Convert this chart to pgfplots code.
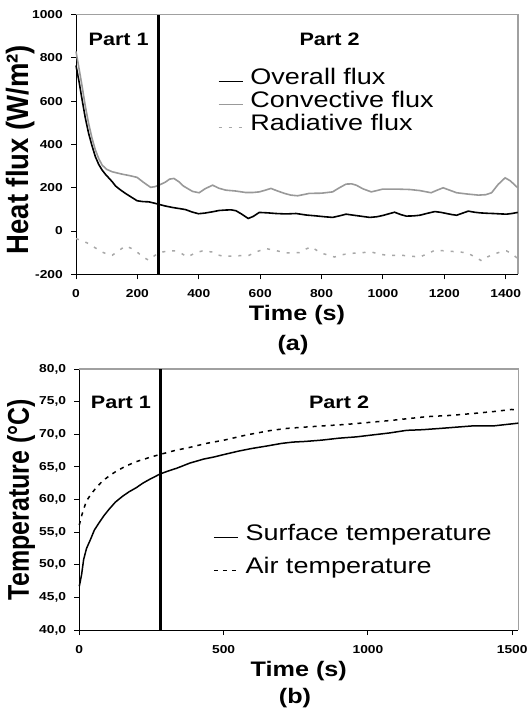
\documentclass[border=0pt]{standalone}
\usepackage{pgfplots}
\pgfplotsset{compat=1.18}
\usepackage{fontspec}
\setmainfont{Liberation Sans}

\definecolor{convgray}{HTML}{999999}
\definecolor{radgray}{HTML}{A8A8A8}
\definecolor{framegray}{HTML}{A0A0A0}

\newcommand{\W}[1]{\scalebox{1.2}[1]{#1}}
\newcommand{\tickfont}{\fontsize{11.5}{13}\selectfont\bfseries}
\newcommand{\xlfont}{\fontsize{21}{23}\selectfont\bfseries}
\newcommand{\legfont}{\fontsize{22.5}{24}\selectfont}
\newcommand{\partfont}{\fontsize{18}{20}\selectfont\bfseries}
\newcommand{\LE}[1]{\W{\legfont #1}}

\pgfplotsset{
  common/.style={
    scale only axis,
    axis x line*=bottom, axis y line*=left,
    axis line style={black, line width=1pt, -},
    tick align=outside, major tick length=5pt,
    tick style={black, line width=1pt},
    clip=false,
    /pgf/number format/assume math mode=true,
    /pgf/number format/1000 sep={},
    xticklabel={\W{\tickfont\pgfmathprintnumber{\tick}}},
    xticklabel style={inner sep=0pt, anchor=north, yshift=-10pt},
    yticklabel style={inner sep=0pt, anchor=east, xshift=-8pt},
    xlabel style={font=\xlfont, at={(axis description cs:0.5,0)}, anchor=base, yshift=-46pt, inner sep=0pt},
    legend style={draw=none, fill=none, inner sep=0pt, outer sep=0pt,
      column sep=7pt, nodes={inner sep=0pt, text height=15pt, text depth=8pt}},
    legend cell align=left,
    legend image code/.code={\draw[##1] (0pt,0pt) -- (24pt,0pt);},
  }
}

\begin{document}
\begin{tikzpicture}
\useasboundingbox (0,0) rectangle (531pt,-708pt);

% ---------------- (a) ----------------
\begin{axis}[common,
  at={(76pt,-274.3pt)}, anchor=south west,
  width=442pt, height=259.6pt,
  xmin=0, xmax=1440, ymin=-200, ymax=1000,
  xtick={0,200,...,1400}, ytick={-200,0,...,1000},
  yticklabel={\W{\tickfont\pgfmathprintnumber{\tick}}},
  xlabel={\W{Time (s)}},
  ylabel={\scalebox{1}[1.12]{\fontsize{27.5}{29}\selectfont\bfseries Heat flux (W/m²)}},
  ylabel style={at={(axis description cs:-0.1244,0.48)}, anchor=center, rotate=0},
  legend style={at={(axis description cs:0.321,0.787)}, anchor=north west, row sep=0pt},
]
\draw[framegray, line width=1.3pt] (rel axis cs:0,1) -- (rel axis cs:1,1) -- (rel axis cs:1,0);
\addplot[black, line width=1.6pt] coordinates {
(0,765) (10,690) (20,606) (30,525) (41,452) (52,395) (63,344) (74,308) (85,282) (96,262) (107,245) (118,228) (129,208) (145,190) (161,174) (180,157) (199,140) (218,136) (237,135) (255,129) (268,124) (290,116) (314,109) (336,104) (357,99) (378,88) (399,80) (420,83) (445,89) (466,95) (488,97) (505,98) (521,94) (540,78) (561,58) (578,68) (597,86) (625,84) (651,81) (684,79) (717,81) (750,74) (782,70) (810,66) (836,63) (858,70) (880,78) (910,72) (957,63) (980,66) (1000,72) (1020,80) (1038,87) (1058,76) (1076,69) (1100,70) (1120,73) (1145,82) (1169,90) (1190,86) (1207,81) (1225,76) (1240,73) (1260,83) (1278,92) (1298,87) (1316,84) (1340,82) (1360,81) (1385,79) (1403,78) (1420,81) (1439,86)
};
\addlegendentry{\LE{Overall flux}}
\addplot[convgray, line width=1.6pt] coordinates {
(0,830) (10,750) (20,668) (30,580) (41,498) (52,430) (63,375) (74,335) (85,305) (100,285) (118,274) (135,268) (150,263) (175,256) (199,248) (220,225) (243,202) (257,205) (270,212) (290,225) (305,240) (319,243) (335,228) (350,208) (363,197) (380,183) (401,177) (420,195) (445,212) (465,198) (488,189) (520,185) (553,178) (575,178) (597,181) (615,188) (635,197) (655,186) (679,174) (700,166) (722,163) (740,168) (760,174) (800,175) (836,181) (858,200) (880,217) (898,218) (913,212) (935,195) (962,181) (980,187) (1000,194) (1040,194) (1087,192) (1120,187) (1157,177) (1175,188) (1196,200) (1215,190) (1240,177) (1275,171) (1311,166) (1335,168) (1354,177) (1375,215) (1398,246) (1415,232) (1439,200)
};
\addlegendentry{\LE{Convective flux}}
\addplot[radgray, line width=1.5pt, dash pattern=on 3pt off 7pt] coordinates {
(0,-35) (20,-45) (41,-58) (63,-78) (85,-97) (100,-106) (118,-112) (140,-90) (161,-69) (180,-80) (199,-97) (218,-120) (237,-135) (255,-115) (270,-100) (300,-92) (325,-92) (345,-105) (363,-120) (390,-100) (412,-92) (445,-97) (460,-110) (482,-117) (520,-115) (564,-112) (590,-95) (619,-81) (650,-90) (684,-101) (727,-100) (746,-85) (766,-73) (785,-90) (804,-104) (842,-120) (865,-110) (891,-104) (930,-100) (962,-97) (985,-105) (1011,-112) (1060,-112) (1120,-120) (1145,-105) (1169,-89) (1207,-92) (1240,-96) (1273,-100) (1300,-120) (1322,-138) (1340,-120) (1360,-107) (1380,-98) (1403,-92) (1420,-105) (1439,-127)
};
\addlegendentry{\LE{Radiative flux}}
\addplot[black, line width=3pt, forget plot] coordinates {(270,-200) (270,1000)};
\node[font=\partfont] at (axis cs:139,887) {\W{Part 1}};
\node[font=\partfont] at (axis cs:826,887) {\W{Part 2}};
\end{axis}
\node[font=\xlfont, anchor=base] at (293pt,-350pt) {\W{(a)}};

% ---------------- (b) ----------------
\begin{axis}[common,
  at={(79.3pt,-630pt)}, anchor=south west,
  width=439pt, height=261pt,
  xmin=0, xmax=1521, ymin=40, ymax=80,
  xtick={0,500,1000,1500}, ytick={40,45,...,80},
  yticklabel={\W{\tickfont\pgfmathprintnumber[fixed, fixed zerofill, precision=1, use comma]{\tick}}},
  xlabel={\W{Time (s)}},
  ylabel={\scalebox{1}[1.2]{\fontsize{25}{27}\selectfont\bfseries Temperature (°C)}},
  ylabel style={at={(axis description cs:-0.1328,0.5)}, anchor=center, rotate=0},
  legend style={at={(axis description cs:0.3046,0.3985)}, anchor=north west, row sep=10pt},
]
\draw[framegray, line width=1.3pt] (rel axis cs:0,1) -- (rel axis cs:1,1) -- (rel axis cs:1,0);
\addplot[black, line width=1.5pt] coordinates {
(0,46.7) (8,48.5) (15,50.8) (25,52.5) (39,53.9) (52,55.3) (68,56.4) (85,57.5) (103,58.5) (125,59.6) (150,60.5) (173,61.2) (197,61.8) (220,62.5) (244,63.1) (262,63.5) (279,63.9) (310,64.4) (338,64.8) (361,65.2) (384,65.6) (408,65.9) (431,66.2) (465,66.5) (502,66.9) (550,67.4) (595,67.8) (650,68.2) (701,68.6) (740,68.8) (783,68.9) (840,69.1) (900,69.4) (960,69.6) (1017,69.9) (1075,70.2) (1134,70.6) (1190,70.7) (1252,70.9) (1310,71.1) (1369,71.3) (1439,71.3) (1480,71.5) (1521,71.7)
};
\addlegendentry{\LE{Surface temperature}}
\addplot[black, line width=1.5pt, dash pattern=on 4pt off 5pt] coordinates {
(0,56.1) (8,57.5) (15,58.5) (25,59.8) (39,60.7) (58,61.8) (80,62.8) (103,63.6) (127,64.3) (160,65.1) (197,65.8) (240,66.4) (279,66.9) (330,67.5) (384,68.0) (440,68.6) (502,69.1) (580,69.9) (666,70.6) (720,70.9) (783,71.1) (850,71.3) (923,71.5) (1000,71.8) (1076,72.1) (1140,72.4) (1205,72.7) (1290,72.9) (1369,73.2) (1440,73.5) (1498,73.8) (1521,73.7)
};
\addlegendentry{\LE{Air temperature}}
\addplot[black, line width=3pt, forget plot] coordinates {(280,40) (280,80)};
\node[font=\partfont] at (axis cs:144,74.9) {\W{Part 1}};
\node[font=\partfont] at (axis cs:900,74.9) {\W{Part 2}};
\end{axis}
\node[font=\xlfont, anchor=base] at (295pt,-703pt) {\W{(b)}};
\end{tikzpicture}
\end{document}
